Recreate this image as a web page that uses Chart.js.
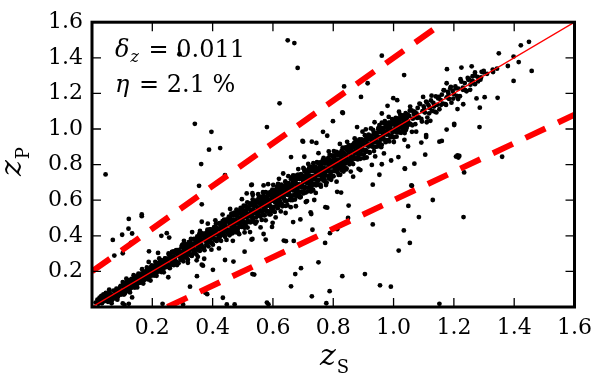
<!DOCTYPE html>
<html>
<head>
<meta charset="utf-8">
<script src="https://cdn.jsdelivr.net/npm/chart.js@4.4.1/dist/chart.umd.min.js"></script>
<style>
  html, body { margin: 0; padding: 0; background: #fff; }
  #wrap { width: 600px; height: 375px; }
</style>
</head>
<body>
<div id="wrap"><canvas id="chart" width="600" height="375"></canvas></div>
<script>
// tick values shared by both axes (0 has no label)
const tickValues = [0.2, 0.4, 0.6, 0.8, 1.0, 1.2, 1.4, 1.6];

// statistics printed in the corner
const statLines = [
  { sym: 'δ', sub: 'z', value: '0.011' },
  { sym: 'η', sub: '', value: '2.1 %' }
];

// reference lines: z_p = z_s and the outlier limits
const diagZs = [0, 1.6];
const diagZp = [0, 1.6];
const upperZs = [0, 1.1667];
const upperZp = [0.2, 1.6];
const lowerZs = [0.25, 1.6];
const lowerZp = [0, 1.08];

// main cloud along the diagonal, [z_s, z_p]
const corePoints = [
  [0.012,0.025],[0.018,0.041],[0.021,0.018],[0.025,0.052],[0.027,0.034],[0.031,0.062],[0.033,0.021],[0.036,0.047],
  [0.038,0.071],[0.041,0.033],[0.043,0.058],[0.046,0.079],[0.048,0.041],[0.051,0.066],[0.053,0.029],[0.056,0.052],
  [0.058,0.084],[0.061,0.047],[0.063,0.071],[0.066,0.038],[0.068,0.059],[0.071,0.092],[0.073,0.064],[0.076,0.049],
  [0.078,0.081],[0.081,0.103],[0.083,0.072],[0.086,0.058],[0.088,0.096],[0.091,0.079],[0.093,0.112],[0.096,0.069],
  [0.098,0.088],[0.065,0.021],[0.084,0.041],[0.095,0.118],[0.057,0.097],
  [0.101,0.118],[0.103,0.087],[0.105,0.134],[0.107,0.101],[0.109,0.076],[0.111,0.125],[0.113,0.109],[0.115,0.142],
  [0.117,0.094],[0.119,0.131],[0.121,0.112],[0.123,0.149],[0.125,0.098],[0.127,0.136],[0.129,0.117],[0.131,0.158],
  [0.133,0.109],[0.135,0.141],[0.137,0.124],[0.139,0.165],[0.141,0.118],[0.143,0.152],[0.145,0.131],[0.147,0.172],
  [0.149,0.127],[0.151,0.161],[0.153,0.143],[0.155,0.178],[0.157,0.136],[0.159,0.169],[0.161,0.151],[0.163,0.188],
  [0.165,0.142],[0.167,0.179],[0.169,0.158],[0.171,0.196],[0.173,0.151],[0.175,0.187],[0.177,0.166],[0.179,0.201],
  [0.181,0.163],[0.183,0.192],[0.185,0.174],[0.187,0.211],[0.189,0.168],[0.191,0.203],[0.193,0.185],[0.195,0.222],
  [0.197,0.176],[0.199,0.213],[0.201,0.193],[0.203,0.229],[0.205,0.184],[0.207,0.221],[0.209,0.201],[0.211,0.238],
  [0.213,0.192],[0.215,0.231],[0.217,0.209],[0.219,0.246],[0.221,0.199],[0.223,0.238],[0.225,0.217],[0.227,0.254],
  [0.229,0.208],[0.231,0.245],[0.233,0.226],[0.235,0.262],[0.237,0.215],[0.239,0.253],[0.241,0.233],[0.243,0.271],
  [0.245,0.224],[0.247,0.261],[0.249,0.242],
  [0.251,0.272],[0.253,0.240],[0.255,0.293],[0.257,0.226],[0.259,0.265],[0.261,0.288],[0.263,0.241],[0.265,0.309],
  [0.267,0.259],[0.269,0.284],[0.271,0.235],[0.273,0.305],[0.275,0.277],[0.277,0.258],[0.279,0.320],[0.281,0.254],
  [0.283,0.294],[0.285,0.320],[0.287,0.246],[0.289,0.313],[0.291,0.287],[0.293,0.311],[0.295,0.266],[0.297,0.336],
  [0.299,0.284],[0.301,0.309],[0.303,0.332],[0.305,0.281],[0.307,0.353],[0.309,0.298],[0.311,0.328],[0.313,0.279],
  [0.315,0.346],[0.317,0.321],[0.319,0.298],[0.321,0.364],[0.323,0.295],[0.325,0.338],[0.327,0.363],[0.329,0.290],
  [0.331,0.353],[0.333,0.327],[0.335,0.354],[0.337,0.306],[0.339,0.380],[0.341,0.324],[0.343,0.352],[0.345,0.373],
  [0.347,0.322],[0.349,0.396],[0.351,0.342],[0.353,0.369],[0.355,0.318],[0.357,0.390],[0.359,0.360],[0.361,0.341],
  [0.363,0.405],[0.365,0.339],[0.367,0.379],[0.369,0.403],[0.371,0.331],[0.373,0.398],[0.375,0.372],[0.377,0.397],
  [0.379,0.349],[0.381,0.421],[0.383,0.369],[0.385,0.392],[0.387,0.417],[0.389,0.366],[0.391,0.436],[0.393,0.383],
  [0.395,0.409],[0.397,0.362],[0.399,0.429],[0.401,0.404],[0.403,0.385],[0.405,0.449],[0.407,0.378],[0.409,0.419],
  [0.411,0.448],[0.413,0.371],[0.415,0.438],[0.417,0.412],[0.419,0.440],[0.421,0.389],[0.423,0.471],[0.425,0.409],
  [0.427,0.433],[0.429,0.460],[0.431,0.405],[0.433,0.483],[0.435,0.423],[0.437,0.455],[0.439,0.401],[0.441,0.475],
  [0.443,0.448],[0.445,0.424],[0.447,0.490],[0.449,0.422],
  [0.262,0.262],[0.298,0.301],[0.334,0.338],[0.356,0.352],[0.388,0.391],[0.412,0.408],[0.436,0.441],
  [0.451,0.482],[0.453,0.434],[0.454,0.508],[0.456,0.412],[0.457,0.466],[0.459,0.499],[0.460,0.428],[0.462,0.524],
  [0.463,0.451],[0.465,0.487],[0.466,0.414],[0.468,0.514],[0.469,0.472],[0.471,0.444],[0.472,0.530],[0.474,0.436],
  [0.475,0.491],[0.477,0.526],[0.478,0.420],[0.480,0.514],[0.481,0.475],[0.483,0.509],[0.484,0.443],[0.486,0.541],
  [0.487,0.466],[0.489,0.501],[0.490,0.531],[0.492,0.458],[0.493,0.557],[0.495,0.479],[0.496,0.524],[0.498,0.451],
  [0.499,0.550],[0.501,0.503],[0.502,0.478],[0.504,0.541],[0.505,0.469],[0.507,0.526],[0.508,0.568],[0.510,0.455],
  [0.511,0.541],[0.513,0.504],[0.514,0.559],[0.516,0.487],[0.517,0.524],[0.519,0.557],[0.520,0.477],[0.522,0.581],
  [0.523,0.509],[0.525,0.546],[0.526,0.476],[0.528,0.571],[0.529,0.530],[0.531,0.506],[0.532,0.588],[0.534,0.497],
  [0.535,0.549],[0.537,0.584],[0.538,0.478],[0.540,0.573],[0.541,0.537],[0.543,0.568],[0.544,0.504],[0.546,0.599],
  [0.547,0.528],[0.549,0.560],[0.550,0.589],[0.552,0.519],[0.553,0.614],[0.555,0.540],[0.556,0.583],[0.558,0.510],
  [0.559,0.609],[0.561,0.565],[0.562,0.536],[0.564,0.600],[0.565,0.530],[0.567,0.585],[0.568,0.626],[0.570,0.516],
  [0.571,0.600],[0.573,0.565],[0.574,0.618],[0.576,0.548],[0.577,0.585],[0.579,0.616],[0.580,0.536],[0.582,0.639],
  [0.583,0.570],[0.585,0.605],[0.586,0.537],[0.588,0.630],[0.589,0.589],[0.591,0.567],[0.592,0.647],[0.594,0.556],
  [0.595,0.608],[0.597,0.643],[0.598,0.539],[0.600,0.632],[0.601,0.596],[0.603,0.627],[0.604,0.563],[0.606,0.658],
  [0.607,0.589],[0.609,0.619],[0.610,0.650],[0.612,0.580],[0.613,0.676],[0.615,0.601],[0.616,0.642],[0.618,0.572],
  [0.619,0.668],[0.621,0.624],[0.622,0.599],[0.624,0.659],[0.625,0.589],[0.627,0.644],[0.628,0.687],[0.630,0.577],
  [0.631,0.659],[0.633,0.626],[0.634,0.677],[0.636,0.609],[0.637,0.643],[0.639,0.677],[0.640,0.595],[0.642,0.698],
  [0.643,0.631],[0.645,0.664],[0.646,0.596],[0.648,0.689],[0.649,0.648],
  [0.458,0.462],[0.476,0.471],[0.494,0.499],[0.512,0.515],[0.533,0.528],[0.551,0.556],[0.569,0.572],[0.587,0.584],
  [0.605,0.610],[0.623,0.619],[0.641,0.645],
  [0.651,0.629],[0.652,0.696],[0.654,0.651],[0.655,0.682],[0.657,0.606],[0.658,0.674],[0.660,0.718],[0.661,0.626],
  [0.663,0.671],[0.664,0.600],[0.666,0.702],[0.667,0.654],[0.669,0.720],[0.670,0.628],[0.672,0.693],[0.673,0.666],
  [0.675,0.738],[0.676,0.647],[0.678,0.689],[0.679,0.623],[0.681,0.720],[0.682,0.664],[0.684,0.731],[0.685,0.647],
  [0.687,0.689],[0.688,0.617],[0.690,0.720],[0.691,0.681],[0.693,0.747],[0.694,0.648],[0.696,0.672],[0.697,0.738],
  [0.699,0.697],[0.700,0.725],[0.702,0.649],[0.703,0.717],[0.705,0.761],[0.706,0.673],[0.708,0.715],[0.709,0.643],
  [0.711,0.745],[0.712,0.697],[0.714,0.763],[0.715,0.671],[0.717,0.736],[0.718,0.713],[0.720,0.781],[0.721,0.690],
  [0.723,0.735],[0.724,0.666],[0.726,0.763],[0.727,0.707],[0.729,0.774],[0.730,0.691],[0.732,0.735],[0.733,0.659],
  [0.735,0.763],[0.736,0.725],[0.738,0.790],[0.739,0.691],[0.741,0.720],[0.742,0.785],[0.744,0.740],[0.745,0.771],
  [0.747,0.692],[0.748,0.763],[0.750,0.807],[0.751,0.715],[0.753,0.762],[0.754,0.686],[0.756,0.791],[0.757,0.743],
  [0.759,0.809],[0.760,0.717],[0.762,0.782],[0.763,0.757],[0.765,0.825],[0.766,0.736],[0.768,0.781],[0.769,0.709],
  [0.771,0.809],[0.772,0.753],[0.774,0.820],[0.775,0.738],[0.777,0.778],[0.778,0.700],[0.780,0.809],[0.781,0.772],
  [0.783,0.836],[0.784,0.737],[0.786,0.763],[0.787,0.829],[0.789,0.788],[0.790,0.814],[0.792,0.740],[0.793,0.810],
  [0.795,0.850],[0.796,0.762],[0.798,0.808],[0.799,0.736],[0.801,0.834],[0.802,0.790],[0.804,0.852],[0.805,0.764],
  [0.807,0.829],[0.808,0.800],[0.810,0.868],[0.811,0.783],[0.813,0.827],[0.814,0.757],[0.816,0.856],[0.817,0.800],
  [0.819,0.863],[0.820,0.780],[0.822,0.826],[0.823,0.743],[0.825,0.856],[0.826,0.814],[0.828,0.878],[0.829,0.784],
  [0.831,0.811],[0.832,0.871],[0.834,0.831],[0.835,0.858],[0.837,0.783],[0.838,0.856],[0.840,0.892],[0.841,0.806],
  [0.843,0.851],[0.844,0.779],[0.846,0.880],[0.847,0.831],[0.849,0.896],
  [0.662,0.664],[0.683,0.680],[0.704,0.707],[0.725,0.721],[0.746,0.749],[0.767,0.764],[0.788,0.792],[0.809,0.806],
  [0.830,0.834],
  [0.851,0.869],[0.853,0.822],[0.855,0.897],[0.857,0.849],[0.859,0.886],[0.861,0.814],[0.863,0.874],[0.865,0.901],
  [0.867,0.846],[0.869,0.920],[0.871,0.832],[0.873,0.877],[0.875,0.905],[0.877,0.863],[0.879,0.924],[0.881,0.829],
  [0.883,0.903],[0.885,0.882],[0.887,0.925],[0.889,0.861],[0.891,0.907],[0.893,0.858],[0.895,0.942],[0.897,0.887],
  [0.899,0.924],[0.901,0.857],[0.903,0.912],[0.905,0.938],[0.907,0.883],[0.909,0.958],[0.911,0.875],[0.913,0.915],
  [0.915,0.943],[0.917,0.901],[0.919,0.962],[0.921,0.866],[0.923,0.945],[0.925,0.920],[0.927,0.963],[0.929,0.903],
  [0.931,0.945],[0.933,0.900],[0.935,0.981],[0.937,0.925],[0.939,0.963],[0.941,0.900],[0.943,0.950],[0.945,0.977],
  [0.947,0.925],[0.949,0.999],[0.951,0.913],[0.953,0.956],[0.955,0.984],[0.957,0.940],[0.959,1.000],[0.961,0.911],
  [0.963,0.982],[0.965,0.963],[0.967,1.004],[0.969,0.940],[0.971,0.986],[0.973,0.939],[0.975,1.019],[0.977,0.968],
  [0.979,1.005],[0.981,0.938],[0.983,0.993],[0.985,1.019],[0.987,0.964],[0.989,1.037],[0.991,0.954],[0.993,0.994],
  [0.995,1.026],[0.997,0.982],[0.999,1.041],[1.001,0.952],[1.003,1.024],[1.005,1.001],[1.007,1.046],[1.009,0.982],
  [1.011,1.024],[1.013,0.981],[1.015,1.060],[1.017,1.006],[1.019,1.046],[1.021,0.981],[1.023,1.031],[1.025,1.058],
  [1.027,1.007],[1.029,1.076],[1.031,0.995],[1.033,1.038],[1.035,1.065],[1.037,1.024],[1.039,1.079],[1.041,0.995],
  [1.043,1.061],[1.045,1.039],[1.047,1.082],[1.049,1.024],
  [1.052,1.073],[1.056,1.028],[1.060,1.104],[1.064,1.058],[1.068,1.098],[1.072,1.027],[1.076,1.088],[1.080,1.118],
  [1.084,1.065],[1.088,1.140],[1.092,1.057],[1.096,1.100],[1.100,1.127],[1.104,1.092],[1.108,1.154],[1.112,1.064],
  [1.116,1.134],[1.120,1.118],[1.124,1.160],[1.128,1.102],[1.132,1.146],[1.136,1.098],[1.140,1.183],[1.144,1.135],
  [1.148,1.172],[1.152,1.111],[1.156,1.164],[1.160,1.193],[1.164,1.143],[1.168,1.217],[1.172,1.140],[1.176,1.178],
  [1.180,1.209],[1.184,1.169],[1.188,1.228],[1.192,1.148],[1.196,1.213],[1.200,1.196],[1.205,1.239],[1.210,1.186],
  [1.215,1.227],[1.220,1.184],[1.225,1.266],[1.230,1.220],[1.236,1.258],[1.242,1.212],[1.248,1.276],[1.255,1.249],
  [1.262,1.297],[1.270,1.252],[1.278,1.293],[1.288,1.277],[1.298,1.318]
];

// wider halo of the same cloud, [z_s, z_p]
const haloPoints = [
  [0.102,0.140],[0.106,0.070],[0.110,0.114],[0.114,0.159],[0.118,0.090],[0.122,0.149],[0.126,0.082],[0.130,0.142],
  [0.134,0.125],[0.138,0.179],[0.142,0.109],[0.146,0.166],[0.150,0.110],[0.154,0.187],[0.158,0.161],[0.162,0.137],
  [0.166,0.212],[0.170,0.132],[0.174,0.189],[0.178,0.164],[0.182,0.222],[0.186,0.155],[0.190,0.214],[0.194,0.149],
  [0.198,0.234],[0.202,0.197],[0.206,0.177],[0.210,0.254],[0.214,0.175],[0.218,0.228],[0.222,0.205],[0.226,0.265],
  [0.230,0.196],[0.234,0.256],[0.238,0.195],[0.242,0.273],[0.246,0.247],[0.250,0.226],[0.254,0.301],[0.258,0.218],
  [0.262,0.279],[0.266,0.254],[0.270,0.312],[0.274,0.244],[0.278,0.304],[0.282,0.236],[0.286,0.320],[0.290,0.283],
  [0.294,0.267],[0.298,0.346],
  [0.301,0.352],[0.303,0.257],[0.306,0.316],[0.308,0.290],[0.311,0.351],[0.313,0.277],[0.316,0.341],[0.318,0.266],
  [0.321,0.352],[0.323,0.320],[0.326,0.295],[0.328,0.382],[0.331,0.287],[0.333,0.348],[0.336,0.316],[0.338,0.383],
  [0.341,0.303],[0.343,0.371],[0.346,0.296],[0.348,0.383],[0.351,0.357],[0.353,0.326],[0.356,0.411],[0.358,0.316],
  [0.361,0.380],[0.363,0.349],[0.366,0.413],[0.368,0.334],[0.371,0.400],[0.373,0.319],[0.376,0.414],[0.378,0.377],
  [0.381,0.352],[0.383,0.435],[0.386,0.341],[0.388,0.401],[0.391,0.370],[0.393,0.436],[0.396,0.359],[0.398,0.422],
  [0.401,0.350],[0.403,0.439],[0.406,0.411],[0.408,0.383],[0.411,0.468],[0.413,0.372],[0.416,0.436],[0.418,0.407],
  [0.421,0.470],[0.423,0.390],[0.426,0.456],[0.428,0.372],[0.431,0.470],[0.433,0.435],[0.436,0.408],[0.438,0.491],
  [0.441,0.394],[0.443,0.457],[0.446,0.427],[0.448,0.492],[0.451,0.415],[0.453,0.479],[0.456,0.403],[0.458,0.495],
  [0.461,0.468],[0.463,0.439],[0.466,0.524],[0.468,0.425],[0.471,0.489],[0.473,0.463],[0.476,0.526],[0.478,0.446],
  [0.481,0.513],[0.483,0.426],[0.486,0.527],[0.488,0.488],[0.491,0.465],[0.493,0.547],[0.496,0.450],[0.498,0.514],
  [0.501,0.483],[0.503,0.569],[0.506,0.445],[0.508,0.530],[0.511,0.474],[0.513,0.562],[0.516,0.446],[0.518,0.553],
  [0.521,0.513],[0.523,0.581],[0.526,0.481],[0.528,0.540],[0.531,0.505],[0.533,0.605],[0.536,0.480],[0.538,0.565],
  [0.541,0.526],[0.543,0.595],[0.546,0.480],[0.548,0.588],[0.551,0.518],[0.553,0.558],[0.556,0.619],[0.558,0.509],
  [0.561,0.591],[0.563,0.489],[0.566,0.611],[0.568,0.546],[0.571,0.587],[0.573,0.515],[0.576,0.645],[0.578,0.538],
  [0.581,0.605],[0.583,0.572],[0.586,0.641],[0.588,0.520],[0.591,0.628],[0.593,0.564],[0.596,0.605],[0.598,0.659],
  [0.601,0.549],[0.603,0.636],[0.606,0.534],[0.608,0.655],[0.611,0.592],[0.613,0.632],[0.616,0.555],[0.618,0.688],
  [0.621,0.585],[0.623,0.649],[0.626,0.620],[0.628,0.681],[0.631,0.566],[0.633,0.672],[0.636,0.609],[0.638,0.649],
  [0.641,0.705],[0.643,0.596],[0.646,0.675],[0.648,0.572],[0.651,0.695],[0.653,0.633],[0.656,0.673],[0.658,0.601],
  [0.661,0.728],[0.663,0.624],[0.666,0.689],[0.668,0.659],[0.671,0.727],[0.673,0.604],[0.676,0.712],[0.678,0.647],
  [0.681,0.689],[0.683,0.743],[0.686,0.633],[0.688,0.719],[0.691,0.616],[0.693,0.741],[0.696,0.679],[0.698,0.718],
  [0.701,0.638],[0.703,0.774],[0.706,0.668],[0.708,0.733],[0.711,0.707],[0.713,0.767],[0.716,0.650],[0.718,0.759],
  [0.721,0.696],[0.723,0.736],[0.726,0.788],[0.728,0.678],[0.731,0.765],[0.733,0.655],[0.736,0.782],[0.738,0.717],
  [0.741,0.759],[0.743,0.684],[0.746,0.814],[0.748,0.706],[0.751,0.773],[0.753,0.743],[0.756,0.813],[0.758,0.687],
  [0.761,0.799],[0.763,0.731],[0.766,0.772],[0.768,0.827],[0.771,0.717],[0.773,0.805],[0.776,0.696],[0.778,0.827],
  [0.781,0.763],[0.783,0.804],[0.786,0.722],[0.788,0.854],[0.791,0.754],[0.793,0.820],[0.796,0.789],[0.798,0.850],
  [0.801,0.734],[0.803,0.843],[0.806,0.782],[0.808,0.820],[0.811,0.872],[0.813,0.764],[0.816,0.851],[0.818,0.742],
  [0.821,0.866],[0.823,0.804],[0.826,0.845],[0.828,0.768],[0.831,0.895],[0.833,0.792],[0.836,0.860],[0.838,0.827],
  [0.841,0.896],[0.843,0.773],[0.846,0.883],[0.848,0.818],
  [0.851,0.909],[0.854,0.802],[0.857,0.873],[0.860,0.836],[0.863,0.910],[0.866,0.803],[0.869,0.899],[0.872,0.863],
  [0.875,0.937],[0.878,0.836],[0.881,0.891],[0.884,0.854],[0.887,0.941],[0.890,0.833],[0.893,0.928],[0.896,0.880],
  [0.899,0.919],[0.902,0.836],[0.905,0.965],[0.908,0.872],[0.911,0.934],[0.914,0.910],[0.917,0.968],[0.920,0.870],
  [0.923,0.955],[0.926,0.904],[0.929,0.936],[0.932,0.995],[0.935,0.876],[0.938,0.977],[0.941,0.928],[0.944,0.961],
  [0.947,0.902],[0.950,1.006],[0.953,0.925],[0.956,0.983],[0.959,0.898],[0.962,1.006],[0.965,0.946],[0.968,0.980],
  [0.971,1.030],[0.974,0.926],[0.977,1.010],[0.980,0.974],[0.983,1.035],[0.986,0.930],[0.989,1.010],[0.992,0.961],
  [0.995,1.056],[0.998,0.957],[1.001,1.037],[1.004,0.990],[1.007,1.062],[1.010,0.957],[1.013,1.041],[1.016,0.991],
  [1.019,1.028],[1.022,1.080],[1.025,0.979],[1.028,1.068],[1.031,1.013],[1.034,1.049],[1.037,0.977],[1.040,1.089],
  [1.043,1.011],[1.046,1.072],[1.049,1.040],
  [1.054,1.104],[1.062,1.021],[1.070,1.096],[1.078,1.062],[1.086,1.143],[1.094,1.042],[1.102,1.112],[1.110,1.149],
  [1.118,1.088],[1.126,1.187],[1.134,1.126],[1.142,1.093],[1.150,1.181],[1.158,1.136],[1.166,1.218],[1.174,1.135],
  [1.182,1.197],[1.190,1.237],[1.198,1.171],[1.206,1.228],[1.214,1.168],[1.222,1.280],[1.230,1.233],[1.238,1.218],
  [1.246,1.287],[1.254,1.220],[1.262,1.272],[1.270,1.318],[1.280,1.267],[1.292,1.321]
];

// looser points at the edge of the cloud, [z_s, z_p]
const fringePoints = [
  [0.305,0.372],[0.318,0.248],[0.332,0.421],[0.347,0.262],[0.358,0.427],[0.372,0.271],[0.384,0.468],[0.396,0.322],
  [0.409,0.487],[0.421,0.329],[0.433,0.519],[0.446,0.377],[0.458,0.551],[0.467,0.372],[0.479,0.547],[0.488,0.409],
  [0.497,0.606],[0.506,0.419],[0.515,0.588],[0.524,0.421],[0.533,0.629],[0.542,0.469],[0.551,0.634],[0.559,0.447],
  [0.567,0.645],[0.576,0.487],[0.584,0.690],[0.592,0.521],[0.601,0.686],[0.609,0.503],[0.617,0.692],[0.626,0.537],
  [0.634,0.750],[0.642,0.568],[0.651,0.735],[0.659,0.561],[0.667,0.739],[0.676,0.566],[0.684,0.775],[0.692,0.620],
  [0.701,0.781],[0.709,0.590],[0.717,0.804],[0.726,0.649],[0.734,0.808],[0.742,0.641],[0.751,0.864],[0.759,0.676],
  [0.768,0.838],[0.776,0.685],[0.785,0.874],[0.793,0.715],[0.802,0.876],[0.811,0.704],[0.822,0.916],[0.834,0.761],
  [0.846,0.928],[0.858,0.761],[0.871,0.947],[0.884,0.776],[0.897,0.985],[0.911,0.840],[0.925,1.003],[0.939,0.846],
  [0.953,1.022],[0.968,0.863],[0.984,1.068],[1.001,0.927],[1.018,1.097],[1.036,0.939],[1.055,1.126],[1.075,0.985],
  [1.098,1.180],[1.122,1.046]
];

// scattered points away from the diagonal, [z_s, z_p]
const outlierPoints = [
  [0.045,0.745],[0.362,0.803],[0.441,0.741],[0.355,0.681],[0.528,0.685],[0.513,0.638],[0.364,0.577],[0.165,0.520],
  [0.165,0.510],[0.122,0.495],[0.364,0.479],[0.121,0.440],[0.100,0.406],[0.133,0.413],[0.069,0.377],[0.248,0.415],
  [0.256,0.390],[0.230,0.400],[0.129,0.360],[0.074,0.289],[0.102,0.302],[0.189,0.313],[0.219,0.304],[0.188,0.253],
  [0.223,0.273],[0.351,0.282],[0.364,0.238],[0.368,0.232],[0.441,0.264],[0.469,0.255],[0.401,0.209],[0.506,0.311],
  [0.529,0.379],[0.538,0.182],[0.348,0.173],[0.325,0.114],[0.376,0.080],[0.382,0.072],[0.434,0.052],[0.447,0.014],
  [0.473,0.014],[0.302,0.014],[0.234,0.018],[0.122,0.018],[0.102,0.020],[0.108,0.012],[0.133,0.054],[0.253,0.167],
  [0.660,0.842],[0.704,0.844],[0.620,0.720],[0.530,0.687],[0.569,0.683],[0.532,0.639],[0.931,0.687],[1.061,0.681],
  [0.851,0.570],[1.049,0.568],[0.931,0.464],[1.034,0.430],[1.054,0.360],[1.017,0.317],[0.569,0.410],[0.532,0.382],
  [0.576,0.379],[0.636,0.373],[0.643,0.370],[0.669,0.371],[0.731,0.434],[0.773,0.360],[0.751,0.251],[0.693,0.218],
  [0.674,0.185],[0.532,0.185],[0.830,0.173],[0.905,0.185],[0.660,0.116],[0.955,0.122],[0.991,0.114],[0.788,0.089],
  [0.729,0.060],[0.777,0.021],[0.580,0.025],[0.585,0.015],[0.667,0.477],[0.691,0.492],[0.725,0.532],[0.727,0.522],
  [0.774,0.561],[0.780,0.558],[0.599,0.473],[0.597,0.450],[0.642,0.528],[0.713,0.595],[0.737,0.601],[0.813,0.647],
  [0.826,0.643],[0.866,0.732],[0.953,0.743],[0.992,0.823],[1.038,0.776],[1.016,0.842],[0.961,0.802],[0.928,0.798],
  [0.890,0.769],[0.849,0.500],[0.789,0.415],[0.813,0.437],
  [1.360,0.844],[1.234,0.756],[1.059,0.683],[1.130,0.601],[1.084,0.505],[1.232,0.505],[1.152,0.018],[1.069,0.805],
  [1.207,0.845],[1.215,0.840],
  [0.649,1.498],[0.671,1.483],[0.682,1.343],[0.622,1.144],[0.580,1.011],[0.961,1.412],[1.035,1.303],[0.836,1.239],
  [0.914,1.257],[0.892,1.180],[0.832,1.090],[0.999,1.173],[1.012,1.162],[0.980,1.130],[0.961,1.087],[0.766,0.984],
  [0.780,0.962],[0.700,0.929],[0.744,0.922],[0.908,0.998],[0.879,1.011],
  [1.449,1.490],[1.422,1.470],[1.349,1.425],[1.398,1.407],[1.415,1.376],[1.458,1.326],[1.379,1.354],[1.343,1.339],
  [1.329,1.334],[1.398,1.270],[1.345,1.175],[1.302,1.179],[1.275,1.172],[1.286,1.120],[1.285,1.011],[1.177,1.336],
  [1.225,1.345],[1.259,1.352],[1.299,1.326],[1.176,1.257],[1.201,1.029],[1.201,1.022],[1.176,0.997],[1.152,0.929],
  [1.092,0.924],[1.108,0.966],[1.108,0.955],[1.110,1.038],[1.105,0.856],[1.212,0.851],[1.048,0.902],[1.212,1.112],
  [1.231,1.139],[1.160,0.933],[1.067,1.084],[1.043,1.006],[1.061,0.984],[0.971,1.044],[0.961,1.035],[0.937,1.038],
  [0.830,1.093],[0.799,1.044],[0.729,0.929],[0.698,0.933],[1.218,0.849],[1.037,0.778],
  [0.341,1.029],[0.396,0.984],[0.388,0.884],[0.425,0.893],[0.290,1.420],
  [1.250,1.280],[1.270,1.300],[1.290,1.290],[1.260,1.260],[1.310,1.310],[1.330,1.320]
];

const toXY = (xs, ys) => xs.map((x, i) => ({ x: x, y: ys[i] }));
const pairsToXY = pts => pts.map(p => ({ x: p[0], y: p[1] }));

const serif = '"DejaVu Serif", "Liberation Serif", serif';

// frame, inward ticks on all four sides, axis titles and the statistics
const framePlugin = {
  id: 'frame',
  afterDraw(chart) {
    const ctx = chart.ctx;
    const a = chart.chartArea;
    const xs = chart.scales.x, ys = chart.scales.y;
    ctx.save();
    ctx.strokeStyle = '#000';
    ctx.lineWidth = 1.3;
    ctx.beginPath();
    tickValues.forEach(v => {
      const px = xs.getPixelForValue(v);
      ctx.moveTo(px, a.bottom); ctx.lineTo(px, a.bottom - 9);
      ctx.moveTo(px, a.top); ctx.lineTo(px, a.top + 9);
      const py = ys.getPixelForValue(v);
      ctx.moveTo(a.left, py); ctx.lineTo(a.left + 9, py);
      ctx.moveTo(a.right, py); ctx.lineTo(a.right - 9, py);
    });
    ctx.stroke();
    ctx.lineWidth = 3;
    ctx.strokeRect(a.left, a.top, a.right - a.left, a.bottom - a.top);

    ctx.fillStyle = '#000';
    ctx.textBaseline = 'alphabetic';
    ctx.textAlign = 'left';

    // x title: z_S
    ctx.font = 'italic 30px ' + serif;
    ctx.fillText('z', 320, 365);
    let wz = ctx.measureText('z').width;
    ctx.font = '18px ' + serif;
    ctx.fillText('S', 320 + wz + 1, 373);

    // y title: z_P, rotated
    ctx.save();
    ctx.translate(21, 176);
    ctx.rotate(-Math.PI / 2);
    ctx.font = 'italic 30px ' + serif;
    ctx.fillText('z', 0, 0);
    ctx.font = '18px ' + serif;
    ctx.fillText('P', wz + 1, 8);
    ctx.restore();

    // statistics
    statLines.forEach((s, i) => {
      const base = 57 + i * 35;
      ctx.font = 'italic 24px ' + serif;
      ctx.fillText(s.sym, 115, base);
      let x = 115 + ctx.measureText(s.sym).width;
      if (s.sub) {
        ctx.font = 'italic 16px ' + serif;
        ctx.fillText(s.sub, x + 1, base + 5);
        x += ctx.measureText(s.sub).width + 1;
      }
      ctx.font = '24px ' + serif;
      ctx.fillText(' = ' + s.value, x + 2, base);
    });
    ctx.restore();
  }
};

const tickFont = { family: serif, size: 22 };

new Chart(document.getElementById('chart'), {
  type: 'scatter',
  data: {
    datasets: [
      {
        label: 'galaxies',
        data: pairsToXY(corePoints.concat(haloPoints, fringePoints, outlierPoints)),
        pointRadius: 2.4,
        pointBackgroundColor: '#000',
        pointBorderWidth: 0,
        order: 2
      },
      {
        label: 'z_p = z_s',
        data: toXY(diagZs, diagZp),
        showLine: true,
        borderColor: '#ff0000',
        borderWidth: 1.4,
        pointRadius: 0,
        order: 1
      },
      {
        label: 'upper',
        data: toXY(upperZs, upperZp),
        showLine: true,
        borderColor: '#ff0000',
        borderWidth: 6,
        borderDash: [22, 14],
        borderCapStyle: 'butt',
        pointRadius: 0,
        order: 0
      },
      {
        label: 'lower',
        data: toXY(lowerZs, lowerZp),
        showLine: true,
        borderColor: '#ff0000',
        borderWidth: 6,
        borderDash: [22, 14],
        borderCapStyle: 'butt',
        pointRadius: 0,
        order: 0
      }
    ]
  },
  options: {
    responsive: false,
    animation: false,
    layout: { padding: { left: 0, right: 20, top: 14, bottom: 0 } },
    plugins: { legend: { display: false }, tooltip: { enabled: false } },
    scales: {
      x: {
        type: 'linear',
        min: 0, max: 1.6,
        grid: { display: false, drawTicks: false },
        border: { display: false },
        afterFit: s => { s.height = 68; },
        ticks: {
          stepSize: 0.2, autoSkip: false, padding: 8,
          color: '#000', font: tickFont,
          callback: v => (Math.abs(v) < 1e-6 ? '' : v.toFixed(1))
        }
      },
      y: {
        type: 'linear',
        min: 0, max: 1.6,
        grid: { display: false, drawTicks: false },
        border: { display: false },
        afterFit: s => { s.width = 92; },
        ticks: {
          stepSize: 0.2, autoSkip: false, padding: 9,
          color: '#000', font: tickFont,
          callback: v => (Math.abs(v) < 1e-6 ? '' : v.toFixed(1))
        }
      }
    }
  },
  plugins: [framePlugin]
});
</script>
</body>
</html>
